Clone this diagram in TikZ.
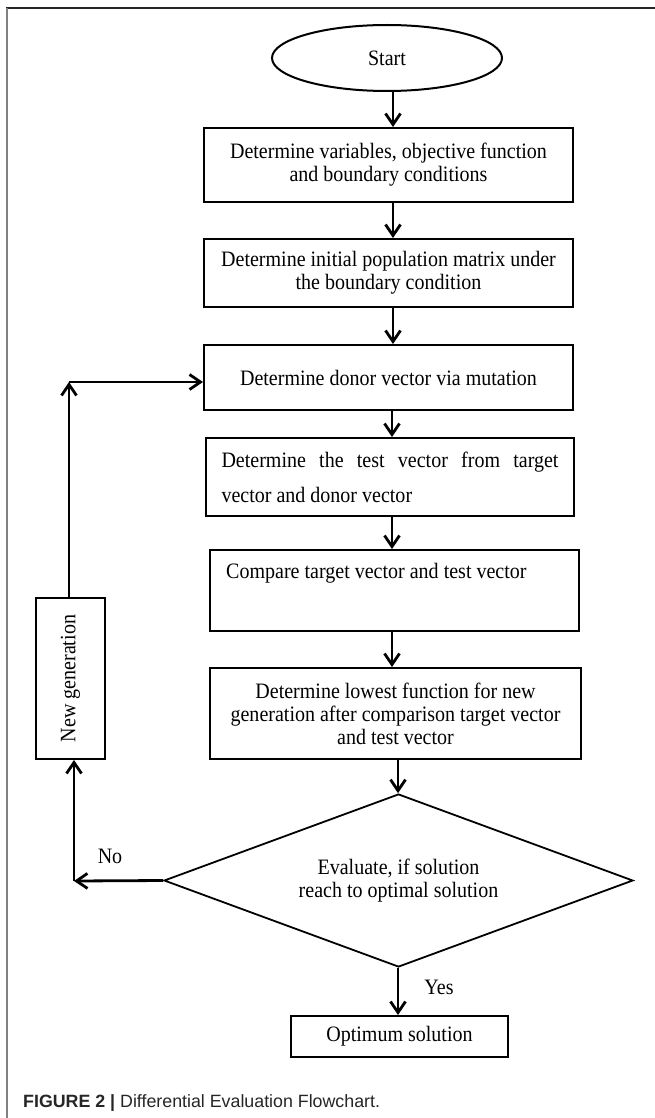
\documentclass[tikz,border=0pt]{standalone}
\usepackage{fontspec}
\setmainfont[FakeStretch=0.91]{Liberation Serif}
\newfontfamily\capsans{Liberation Sans}
\usetikzlibrary{arrows.meta,shapes.geometric}
\newcommand\fs{\fontsize{22}{23}\selectfont}
\begin{document}
\begin{tikzpicture}[x=1pt,y=-1pt,
  box/.style={draw, line width=2pt, inner sep=0pt, font=\fs},
  arr/.style={line width=2.8pt, -{Straight Barb[length=11pt,width=15pt]}},
  lbl/.style={font=\fs, inner sep=0pt}]
\useasboundingbox (0,0) rectangle (655,1118);
% frame
\draw[line width=1.3pt, black!85] (6,8) -- (655,8);
\draw[line width=2pt, black!50] (7,8) -- (7,1118);
% nodes
\node[ellipse, draw, line width=2pt, minimum width=230pt, minimum height=66pt, inner sep=0pt, font=\fs] (start) at (387,58) {Start};
\node[box, minimum width=369pt, minimum height=74pt, align=center] (b1) at (388.5,165) {Determine variables, objective function\\and boundary conditions};
\node[box, minimum width=369pt, minimum height=68pt, align=center] (b2) at (388.5,273) {Determine initial population matrix under\\the boundary condition};
\node[box, minimum width=369pt, minimum height=65pt] (donor) at (388.5,377.5) {Determine donor vector via mutation};
\node[box, minimum width=368pt, minimum height=78pt] (test) at (390,477) {\parbox{337pt}{\makebox[337pt][s]{Determine the test vector from target}\\[12pt]vector and donor vector}};
\node[box, minimum width=369pt, minimum height=81pt] (cmp) at (394.5,590.5) {};
\node[lbl, anchor=west] (cmptext) at (226,573) {Compare target vector and test vector};
\node[box, minimum width=371pt, minimum height=91pt, align=center] (low) at (395.5,713.5) {Determine lowest function for new\\generation after comparison target vector\\and test vector};
\node[box, minimum width=69pt, minimum height=161pt] (newgen) at (70.5,678.5) {\rotatebox{90}{New generation}};
\node[diamond, draw, line width=1.8pt, aspect=2.71, minimum width=469pt, minimum height=173pt, inner sep=0pt, align=center, font=\fs] (dec) at (398.5,880.5) {Evaluate, if solution\\reach to optimal solution};
\node[box, minimum width=217pt, minimum height=41pt] (opt) at (399.5,1036.5) {Optimum solution};
% labels
\node[lbl] (no) at (110,856) {No};
\node[lbl] (yes) at (439,987) {Yes};
% arrows
\coordinate (xa) at (393,0);
\coordinate (xb) at (392,0);
\coordinate (xc) at (398,0);
\draw[arr] (start.south -| xa) -- (b1.north -| xa);
\draw[arr] (b1.south -| xa) -- (b2.north -| xa);
\draw[arr] (b2.south -| xa) -- (donor.north -| xa);
\draw[arr] (donor.south -| xb) -- (test.north -| xb);
\draw[arr] (test.south -| xb) -- (cmp.north -| xb);
\draw[arr] (cmp.south -| xb) -- (low.north -| xb);
\draw[arr] (low.south -| xc) -- (dec.north -| xc);
\draw[arr] (dec.south -| xc) -- (opt.north -| xc);
\coordinate (fb) at (69,382);
\draw[arr] (newgen.north -| fb) -- (fb);
\draw[arr] (fb) -- (donor.west |- fb);
\coordinate (nc) at (74,881);
\draw[arr] (dec.west) -- (nc);
\draw[arr] (nc) -- (newgen.south -| nc);
% caption
\node[anchor=base west, inner sep=0pt, font=\capsans\fontsize{17.8}{20}\selectfont, text=black!85] (cap) at (23,1107) {\textbf{FIGURE 2 |} Differential Evaluation Flowchart.};
\end{tikzpicture}
\end{document}
